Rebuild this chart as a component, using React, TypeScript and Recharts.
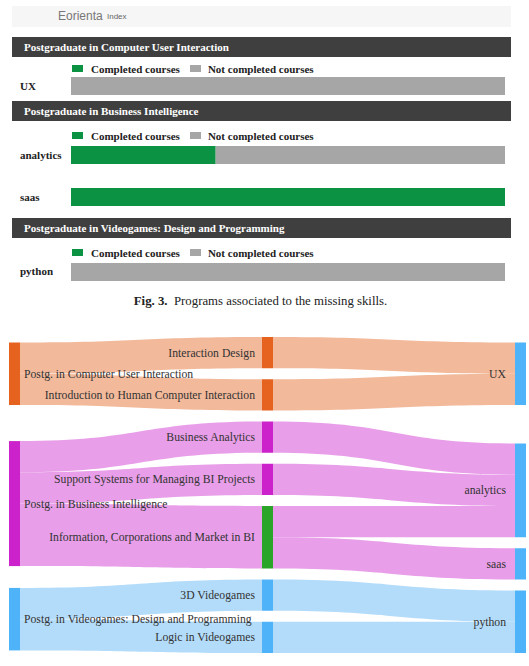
import React from 'react'
import { BarChart, Bar, XAxis, YAxis, Sankey } from 'recharts'

// top part: one block per programme
const programTitles = ['Postgraduate in Computer User Interaction', 'Postgraduate in Business Intelligence', 'Postgraduate in Videogames: Design and Programming']
const programSkills = [['UX'], ['analytics', 'saas'], ['python']]
const completedCourses = [[0], [1, 1], [0]]
const notCompletedCourses = [[2], [2, 0], [2]]

// sankey: programme -> course -> missing skill
const programs = ['Postg. in Computer User Interaction', 'Postg. in Business Intelligence', 'Postg. in Videogames: Design and Programming']
const courses = ['Interaction Design', 'Introduction to Human Computer Interaction', 'Business Analytics', 'Support Systems for Managing BI Projects', 'Information, Corporations and Market in BI', '3D Videogames', 'Logic in Videogames']
const courseProgram = [0, 0, 1, 1, 1, 2, 2]
const courseWeight = [1, 1, 1, 1, 2, 1, 1]
const courseCompleted = [false, false, false, false, true, false, false]
const skills = ['UX', 'analytics', 'saas', 'python']
const courseSkill: [number, number, number][] = [[0, 0, 1], [1, 0, 1], [2, 1, 1], [3, 1, 1], [4, 1, 1], [4, 2, 1], [5, 3, 1], [6, 3, 1]]

const GREEN = '#0b9242'
const GRAY = '#a6a6a6'
const SERIF = '"Liberation Serif", "Times New Roman", serif'
const PROG_COLORS = ['#e5631f', '#cc22cc', '#4eb3f8']
const LINK_COLORS = ['#f2b99b', '#e89ee8', '#b3dcfa']
const DONE_COLOR = '#2aa52a'
const SKILL_COLOR = '#4eb3f8'

const nodes = [
  ...programs.map((name, i) => ({ name, program: i, done: false })),
  ...courses.map((name, i) => ({ name, program: courseProgram[i], done: courseCompleted[i] })),
  ...skills.map(name => ({ name, program: -1, done: false })),
]
const P = programs.length, C = courses.length
const links = [
  ...courses.map((_, i) => ({ source: courseProgram[i], target: P + i, value: courseWeight[i] })),
  ...courseSkill.map(([c, s, v]) => ({ source: P + c, target: P + C + s, value: v })),
]

// layout of the three blocks (header top, legend top, chart top/height)
const blocks = [
  { header: 37, legend: 62, top: 76, height: 20 },
  { header: 101, legend: 129, top: 134, height: 84 },
  { header: 218, legend: 246, top: 261, height: 21 },
]

const YTick = (props: any) => (
  <text x={20} y={props.y} dy="0.35em" fontFamily={SERIF} fontSize={11} fontWeight="bold" fill="#222">{props.payload.value}</text>
)

function Block({ idx }: { idx: number }) {
  const b = blocks[idx]
  const data = programSkills[idx].map((s, i) => ({ skill: s, completed: completedCourses[idx][i], notCompleted: notCompletedCourses[idx][i] }))
  return (
    <>
      <div style={{ position: 'absolute', top: b.header, left: 12, width: 499, height: 20, background: '#3f3f3f', color: '#fff', fontFamily: SERIF, fontWeight: 'bold', fontSize: 11, lineHeight: '20px', paddingLeft: 12, boxSizing: 'border-box' }}>
        {programTitles[idx]}
      </div>
      <div style={{ position: 'absolute', top: b.legend, left: 72, height: 13, display: 'flex', alignItems: 'center', fontFamily: SERIF, fontWeight: 'bold', fontSize: 11, color: '#222' }}>
        <span style={{ display: 'inline-block', width: 11, height: 7, background: GREEN, marginRight: 8 }} />
        <span>Completed courses</span>
        <span style={{ display: 'inline-block', width: 11, height: 7, background: GRAY, marginLeft: 10, marginRight: 7 }} />
        <span>Not completed courses</span>
      </div>
      <div style={{ position: 'absolute', top: b.top, left: 0 }}>
        <BarChart width={529} height={b.height} data={data} layout="vertical" stackOffset="expand" margin={{ top: 0, right: 24, bottom: 0, left: 0 }}>
          <XAxis type="number" hide domain={[0, 1]} />
          <YAxis type="category" dataKey="skill" width={71} axisLine={false} tickLine={false} tick={<YTick />} />
          <Bar dataKey="completed" stackId="a" fill={GREEN} barSize={18} isAnimationActive={false} />
          <Bar dataKey="notCompleted" stackId="a" fill={GRAY} barSize={18} isAnimationActive={false} />
        </BarChart>
      </div>
    </>
  )
}

function nodeColor(p: any) {
  if (p.depth === 0) return PROG_COLORS[p.program]
  if (p.program < 0) return SKILL_COLOR
  return p.done ? DONE_COLOR : PROG_COLORS[p.program]
}

function SankeyNode(props: any) {
  const { x, y, width, height, payload } = props
  const left = payload.depth === 0
  const tx = left ? x + width + 4 : payload.depth === 1 ? x - 7 : x - 9
  return (
    <g>
      <rect x={x} y={y} width={width} height={height} fill={nodeColor(payload)} />
      <text x={tx} y={y + height / 2} dy="0.35em" textAnchor={left ? 'start' : 'end'} fontFamily={SERIF} fontSize={11.7} fill="#333">{payload.name}</text>
    </g>
  )
}

function SankeyLink(props: any) {
  const { sourceX, targetX, sourceY, targetY, sourceControlX, targetControlX, linkWidth, payload } = props
  const h = linkWidth / 2
  const prog = payload.source.program
  const d = `M${sourceX},${sourceY - h}C${sourceControlX},${sourceY - h} ${targetControlX},${targetY - h} ${targetX},${targetY - h}` +
    `L${targetX},${targetY + h}C${targetControlX},${targetY + h} ${sourceControlX},${sourceY + h} ${sourceX},${sourceY + h}Z`
  return <path d={d} fill={LINK_COLORS[prog]} stroke="none" />
}

export default function App() {
  return (
    <div style={{ position: 'absolute', left: 0, top: 0, width: 529, height: 666, background: '#fff', overflow: 'hidden' }}>
      <div style={{ position: 'absolute', top: 6, left: 12, width: 499, height: 21, background: '#f6f6f6' }}>
        <span style={{ position: 'absolute', left: 46, top: 3, fontFamily: '"Liberation Sans", Arial, sans-serif', fontSize: 12, color: '#777' }}>Eorienta</span>
        <span style={{ position: 'absolute', left: 95, top: 6, fontFamily: '"Liberation Sans", Arial, sans-serif', fontSize: 8, color: '#666' }}>Index</span>
      </div>
      {programTitles.map((_, i) => <Block key={i} idx={i} />)}
      <div style={{ position: 'absolute', top: 294, left: 0, width: 521, textAlign: 'center', fontFamily: SERIF, fontSize: 12.8, color: '#222' }}>
        <b>Fig. 3.</b>{'\u00a0\u00a0'}Programs associated to the missing skills.
      </div>
      <div style={{ position: 'absolute', top: 330, left: 0 }}>
        <Sankey
          width={529}
          height={336}
          data={{ nodes, links }}
          nodeWidth={11}
          nodePadding={11}
          iterations={64}
          sort={false}
          margin={{ top: 7, right: 3, bottom: 13, left: 9 }}
          node={<SankeyNode />}
          link={<SankeyLink />}
        />
      </div>
    </div>
  )
}
